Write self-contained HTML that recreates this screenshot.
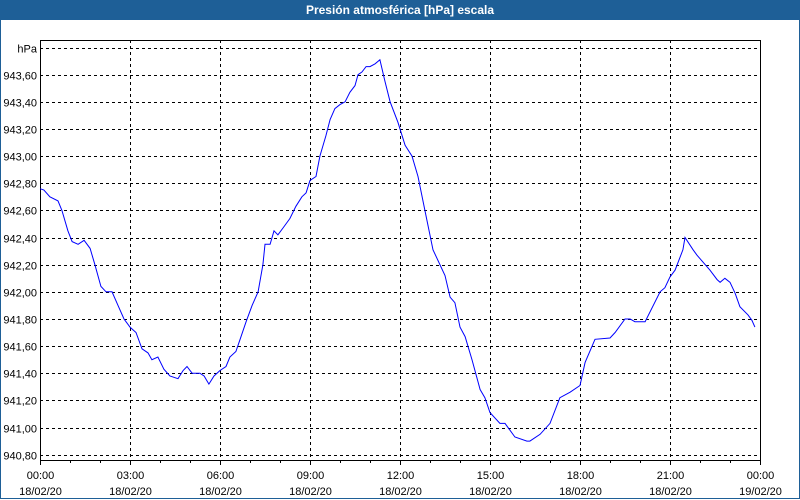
<!DOCTYPE html>
<html><head><meta charset="utf-8"><style>
body{margin:0;width:800px;height:500px;overflow:hidden;background:#fff;font-family:"Liberation Sans",sans-serif;}
#win{position:absolute;left:0;top:0;width:798px;height:498px;border:1px solid #1e5f97;border-top:none;}
#title{position:absolute;left:0;top:0;width:800px;height:20px;background:#1e5f97;color:#fff;font-weight:bold;font-size:12px;text-align:center;line-height:21px;}
svg{position:absolute;left:0;top:0;}
text{font-family:"Liberation Sans",sans-serif;font-size:11px;fill:#000;}
</style></head><body>
<div id="win"></div>
<div id="title">Presión atmosférica [hPa] escala</div>
<svg id="chart" width="800" height="500"></svg>
<script>
const hours=[0,.13,.33,.6,.73,.93,1.07,1.27,1.47,1.67,1.83,2.03,2.2,2.4,2.6,2.8,3.0,3.2,3.4,3.6,3.73,3.93,4.13,4.33,4.6,4.77,4.9,5.07,5.33,5.47,5.63,5.8,6.0,6.2,6.33,6.53,6.67,6.87,7.07,7.27,7.43,7.5,7.67,7.8,7.93,8.1,8.33,8.53,8.73,8.87,9.0,9.2,9.33,9.53,9.67,9.83,10.0,10.17,10.33,10.5,10.6,10.73,10.87,11.0,11.17,11.33,11.5,11.67,11.93,12.17,12.4,12.6,12.83,13.1,13.5,13.67,13.83,14.0,14.17,14.4,14.67,14.83,15.0,15.33,15.5,15.83,16.23,16.33,16.67,17.0,17.33,17.67,18.0,18.17,18.5,19.0,19.17,19.5,19.67,19.83,20.17,20.67,20.83,21.0,21.17,21.43,21.5,21.77,21.9,22.33,22.57,22.67,22.83,23.0,23.17,23.33,23.6,23.73,23.83];
const pressure=[942.76,942.75,942.70,942.67,942.60,942.45,942.37,942.35,942.38,942.32,942.20,942.04,942.00,942.00,941.90,941.80,941.74,941.70,941.58,941.55,941.50,941.52,941.43,941.38,941.36,941.42,941.45,941.40,941.40,941.38,941.32,941.38,941.42,941.45,941.52,941.56,941.65,941.78,941.90,942.00,942.20,942.35,942.35,942.45,942.42,942.47,942.54,942.63,942.70,942.73,942.82,942.85,943.00,943.15,943.27,943.35,943.38,943.40,943.47,943.52,943.60,943.62,943.66,943.66,943.68,943.71,943.55,943.40,943.25,943.08,943.00,942.85,942.60,942.31,942.12,941.96,941.92,941.74,941.67,941.50,941.28,941.22,941.11,941.03,941.03,940.93,940.90,940.90,940.95,941.03,941.22,941.26,941.31,941.48,941.65,941.66,941.70,941.80,941.80,941.78,941.78,942.00,942.03,942.11,942.16,942.31,942.40,942.31,942.27,942.16,942.09,942.07,942.10,942.07,941.99,941.89,941.83,941.79,941.74];
const yTicks=[943.60,943.40,943.20,943.00,942.80,942.60,942.40,942.20,942.00,941.80,941.60,941.40,941.20,941.00,940.80];
const xTimes=["00:00","03:00","06:00","09:00","12:00","15:00","18:00","21:00","00:00"];
const xDates=["18/02/20","18/02/20","18/02/20","18/02/20","18/02/20","18/02/20","18/02/20","18/02/20","19/02/20"];
const L=40,R=760,T=40,B=460;
const xs=h=>L+h*(R-L)/24;
const ys=v=>74.7+(943.6-v)*135.7;
const svg=document.getElementById('chart');
const NS='http://www.w3.org/2000/svg';
function mk(tag,attrs){const e=document.createElementNS(NS,tag);for(const k in attrs)e.setAttribute(k,attrs[k]);svg.appendChild(e);return e;}
// horizontal grid
const hv=[943.8].concat(yTicks);
hv.forEach((v,i)=>{
  const y=Math.round(ys(v))+0.5;
  const g=mk('line',{x1:L,x2:R,y1:y,y2:y,stroke:'#000','stroke-dasharray':'3,3'});
  
  
  const t=mk('text',{x:37,y:y+4,'text-anchor':'end'});
  t.textContent=i===0?'hPa':v.toFixed(2).replace('.',',');
  
  
});
// vertical grid + labels
xTimes.forEach((s,i)=>{
  const x=Math.round(xs(i*3))+0.5;
  if(i>0&&i<8){
    const g=mk('line',{x1:x,x2:x,y1:T,y2:B,stroke:'#000','stroke-dasharray':'3,3'});
    
    
  }
  const t=mk('text',{x:x,y:479,'text-anchor':'middle'});
  t.textContent=s;
  
  
  const d=mk('text',{x:x,y:495,'text-anchor':'middle'});
  d.textContent=xDates[i];
  
  
});
for(let h=0;h<=24;h++){
  const x=Math.round(xs(h))+0.5;
  const tk=mk('line',{x1:x,x2:x,y1:B,y2:B+(h%3===0?5:3),stroke:'#000'});
  
  
}
const fr=mk('rect',{x:L+0.5,y:T+0.5,width:R-L,height:B-T,fill:'none',stroke:'#000'});


const pts=hours.map((h,i)=>xs(h).toFixed(1)+','+ys(pressure[i]).toFixed(1)).join(' ');
const pl=mk('polyline',{points:pts,fill:'none',stroke:'#0000ff','stroke-width':1});


</script>
</body></html>
